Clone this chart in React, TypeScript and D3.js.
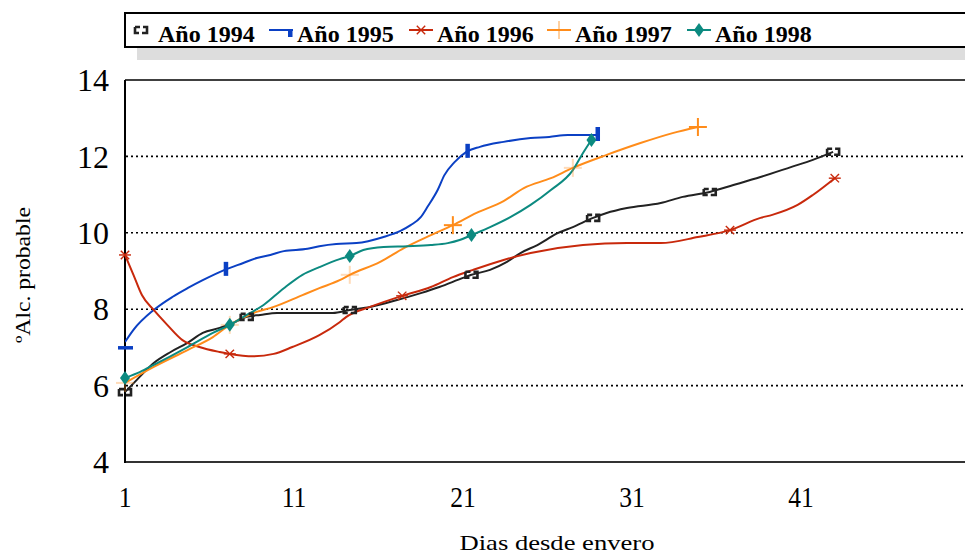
import React from "react";
import * as d3 from "d3";

const xTicks = [1, 11, 21, 31, 41];
const yTicks = [4, 6, 8, 10, 12, 14];
const gridValues = [6, 8, 10, 12];

const seriesNames = ["Año 1994", "Año 1995", "Año 1996", "Año 1997", "Año 1998"];

const days1994 = [1, 1.7, 2.7, 3.7, 4.7, 5.6, 6.6, 7.4, 8.2, 9, 10, 11.5, 13.3, 14.3, 15.5, 17.1, 18.5, 19.6, 21, 21.5, 22.6, 23.6, 24.4, 25.4, 26.6, 27.5, 28.7, 29.5, 30.7, 32.7, 34, 35.6, 37, 38.6, 40.4, 41.7, 42.9];
const vals1994 = [5.83, 6.15, 6.59, 6.88, 7.12, 7.38, 7.51, 7.64, 7.8, 7.85, 7.9, 7.9, 7.9, 7.98, 8.06, 8.24, 8.42, 8.58, 8.82, 8.9, 9.03, 9.24, 9.47, 9.68, 9.99, 10.15, 10.39, 10.52, 10.65, 10.78, 10.94, 11.07, 11.25, 11.46, 11.72, 11.91, 12.12];
const marks1994 = [0, 8, 13, 19, 26, 31, 36];

const days1995 = [1, 1.5, 2.7, 3.8, 4.7, 5.6, 6.9, 8, 8.8, 9.6, 10.4, 11.8, 12.5, 13.5, 14.7, 16.3, 17.3, 17.9, 18.5, 18.9, 19.5, 19.9, 20.5, 21.2, 22, 23.4, 25, 26.1, 27.2, 28.9];
const vals1995 = [7.14, 7.46, 7.98, 8.32, 8.55, 8.76, 9.03, 9.21, 9.34, 9.42, 9.52, 9.58, 9.65, 9.71, 9.73, 9.89, 10.05, 10.2, 10.41, 10.68, 11.12, 11.51, 11.85, 12.12, 12.25, 12.38, 12.48, 12.51, 12.56, 12.56];
const marks1995 = [0, 6, 23, 29];

const days1996 = [1, 1.5, 2, 2.7, 3.5, 4.4, 5.4, 6.6, 7.2, 8.6, 9.8, 10.9, 12.5, 13.7, 14.1, 15.5, 17.4, 19.1, 20.4, 21.6, 23.4, 25, 28.1, 30.7, 32.7, 34.9, 36.8, 38.6, 39.3, 40.8, 41.7, 43];
const vals1996 = [9.42, 8.9, 8.37, 7.98, 7.59, 7.19, 7.01, 6.88, 6.83, 6.77, 6.83, 7.01, 7.32, 7.66, 7.8, 8.06, 8.35, 8.58, 8.84, 9.03, 9.29, 9.47, 9.68, 9.73, 9.73, 9.89, 10.07, 10.39, 10.47, 10.73, 10.99, 11.43];
const marks1996 = [0, 8, 16, 26, 31];

const days1997 = [1, 2.7, 4.7, 6.2, 7.2, 8.6, 9.8, 11.5, 12.5, 13.7, 14.3, 16.1, 17.5, 19.1, 20.4, 21.8, 23.4, 24.6, 26.2, 27.5, 29.5, 31.5, 33.4, 34.9];
const vals1997 = [6.07, 6.49, 6.93, 7.27, 7.59, 7.9, 8.06, 8.37, 8.55, 8.76, 8.9, 9.24, 9.6, 9.94, 10.2, 10.52, 10.83, 11.17, 11.43, 11.7, 12.04, 12.35, 12.61, 12.77];
const marks1997 = [14, 23];
const faintMarks1997 = [0, 4, 10, 19];

const days1998 = [1, 1.9, 2.7, 4.7, 6.2, 7.2, 8.2, 9.2, 10.4, 11.5, 12.5, 13.7, 14.3, 15.1, 16.3, 17.7, 19.1, 20.1, 20.8, 21.5, 22.6, 23.8, 25, 26.2, 27.5, 28.1, 28.6];
const vals1998 = [6.2, 6.36, 6.54, 7.01, 7.38, 7.59, 7.85, 8.11, 8.55, 8.9, 9.1, 9.31, 9.39, 9.55, 9.63, 9.65, 9.68, 9.73, 9.81, 9.94, 10.15, 10.41, 10.73, 11.12, 11.64, 12.09, 12.43];
const marks1998 = [0, 5, 12, 19, 26];

const COLORS = ["#222222", "#0b40c4", "#c8290c", "#ff8c1a", "#0c8a80"];
const SERIF = "Liberation Serif, Times New Roman, serif";

const W = 965;
const H = 555;

function Marker({ kind, x, y, color, opacity = 1, first = false }: any) {
  if (kind === 0) {
    return (
      <g transform={`translate(${x},${y})`} stroke={color} strokeWidth={2.6} fill="none" opacity={opacity}>
        <path d="M-6,-3 H-1 M-6,-3 V3 H-2 M2,-3 H6 V3 H1" />
      </g>
    );
  }
  if (kind === 1) {
    if (first) {
      return <rect x={x - 7} y={y + 4} width={15} height={3.5} fill={color} />;
    }
    return <rect x={x - 1} y={y - 8} width={4.5} height={14} fill={color} />;
  }
  if (kind === 2) {
    const r = 6;
    return (
      <g transform={`translate(${x},${y})`} stroke={color} strokeWidth={1.4} opacity={opacity}>
        <line x1={-r} y1={0} x2={r} y2={0} />
        <line x1={-r * 0.7} y1={-r * 0.7} x2={r * 0.7} y2={r * 0.7} />
        <line x1={-r * 0.7} y1={r * 0.7} x2={r * 0.7} y2={-r * 0.7} />
      </g>
    );
  }
  if (kind === 3) {
    const r = 9;
    return (
      <g transform={`translate(${x},${y})`} stroke={color} strokeWidth={2} opacity={opacity}>
        <line x1={-r} y1={0} x2={r} y2={0} />
        <line x1={0} y1={-r} x2={0} y2={r} />
      </g>
    );
  }
  const r = 7;
  return (
    <path
      d={`M${x},${y - r} L${x + 5},${y} L${x},${y + r} L${x - 5},${y} Z`}
      fill={color}
      opacity={opacity}
    />
  );
}

export default function App() {
  const x = d3.scaleLinear().domain([1, 51]).range([125, 970]);
  const y = d3.scaleLinear().domain([4, 14]).range([462, 80]);

  const series = [
    { days: days1994, vals: vals1994, marks: marks1994, faint: [] as number[] },
    { days: days1995, vals: vals1995, marks: marks1995, faint: [] as number[] },
    { days: days1996, vals: vals1996, marks: marks1996, faint: [] as number[] },
    { days: days1997, vals: vals1997, marks: marks1997, faint: faintMarks1997 },
    { days: days1998, vals: vals1998, marks: marks1998, faint: [] as number[] },
  ];

  const line = d3
    .line<[number, number]>()
    .x((d) => x(d[0]))
    .y((d) => y(d[1]))
    .curve(d3.curveMonotoneX);

  const legendX = [130, 269, 409, 547, 687];
  const textX = [158, 297, 437, 575, 715];

  return (
    <svg
      width={W}
      height={H}
      style={{ position: "absolute", left: 0, top: 0, background: "#fff", fontFamily: SERIF }}
    >
      <defs>
        <clipPath id="plot">
          <rect x={125} y={78} width={W - 125} height={386} />
        </clipPath>
      </defs>

      {/* legend */}
      <rect x={137} y={48} width={W - 137} height={12} fill="#dddddd" />
      <rect x={125} y={13} width={W - 124 + 2} height={34} fill="#fff" stroke="#000" strokeWidth={2} />
      {seriesNames.map((name, i) => {
        const lx = legendX[i];
        const ly = 30;
        return (
          <g key={name}>
            {i === 0 ? (
              <Marker kind={0} x={lx + 11} y={ly} color={COLORS[0]} />
            ) : i === 1 ? (
              <g>
                <line x1={lx} y1={ly} x2={lx + 24} y2={ly} stroke={COLORS[1]} strokeWidth={2} />
                <rect x={lx + 19} y={ly - 1} width={4.5} height={8} fill={COLORS[1]} />
              </g>
            ) : (
              <g>
                <line x1={lx} y1={ly} x2={lx + 24} y2={ly} stroke={COLORS[i]} strokeWidth={2} />
                <Marker kind={i} x={lx + 12} y={ly} color={i === 3 ? "#ffd0a0" : COLORS[i]} />
                {i === 3 && <line x1={lx} y1={ly} x2={lx + 24} y2={ly} stroke={COLORS[i]} strokeWidth={2} />}
              </g>
            )}
            <text x={textX[i]} y={42} fontSize={24} fontWeight="bold" fill="#000">
              {name}
            </text>
          </g>
        );
      })}

      {/* grid */}
      {gridValues.map((v) => (
        <line
          key={v}
          x1={126}
          x2={W}
          y1={y(v)}
          y2={y(v)}
          stroke="#000"
          strokeWidth={1.6}
          strokeDasharray="2 3"
        />
      ))}

      {/* frame */}
      <line x1={125} x2={W} y1={y(14)} y2={y(14)} stroke="#000" strokeWidth={1.5} />
      <line x1={125} x2={W} y1={y(4)} y2={y(4)} stroke="#333" strokeWidth={2} />
      <line x1={125} x2={125} y1={y(14)} y2={y(4) + 1} stroke="#000" strokeWidth={2} />

      {/* y tick labels */}
      {yTicks.map((v) => (
        <text key={v} x={109} y={y(v)} dy="0.35em" textAnchor="end" fontSize={32} fill="#000">
          {v}
        </text>
      ))}

      {/* x tick labels */}
      {xTicks.map((v) => (
        <g key={v} transform={`translate(${x(v)},507) scale(0.85,1)`}>
          <text x={0} y={0} textAnchor="middle" fontSize={30} fill="#000">
            {v}
          </text>
        </g>
      ))}

      {/* axis titles */}
      <text
        x={557}
        y={550}
        textAnchor="middle"
        fontSize={21}
        textLength={195}
        lengthAdjust="spacingAndGlyphs"
        fill="#000"
      >
        Dias desde envero
      </text>
      <text
        transform="translate(30,275) rotate(-90)"
        textAnchor="middle"
        fontSize={22}
        textLength={136}
        lengthAdjust="spacingAndGlyphs"
        fill="#000"
      >
        ºAlc. probable
      </text>

      {/* series */}
      <g clipPath="url(#plot)">
        {series.map((s, i) => {
          const pts: [number, number][] = s.days.map((d, k) => [d, s.vals[k]]);
          return (
            <path key={i} d={line(pts) || ""} fill="none" stroke={COLORS[i]} strokeWidth={2} />
          );
        })}
      </g>
      {series.map((s, i) => (
        <g key={"m" + i}>
          {s.faint.map((k) => (
            <Marker key={"f" + k} kind={i} x={x(s.days[k])} y={y(s.vals[k])} color={COLORS[i]} opacity={0.3} />
          ))}
          {s.marks.map((k, j) => (
            <Marker key={k} kind={i} x={x(s.days[k])} y={y(s.vals[k])} color={COLORS[i]} first={i === 1 && j === 0} />
          ))}
        </g>
      ))}
    </svg>
  );
}
